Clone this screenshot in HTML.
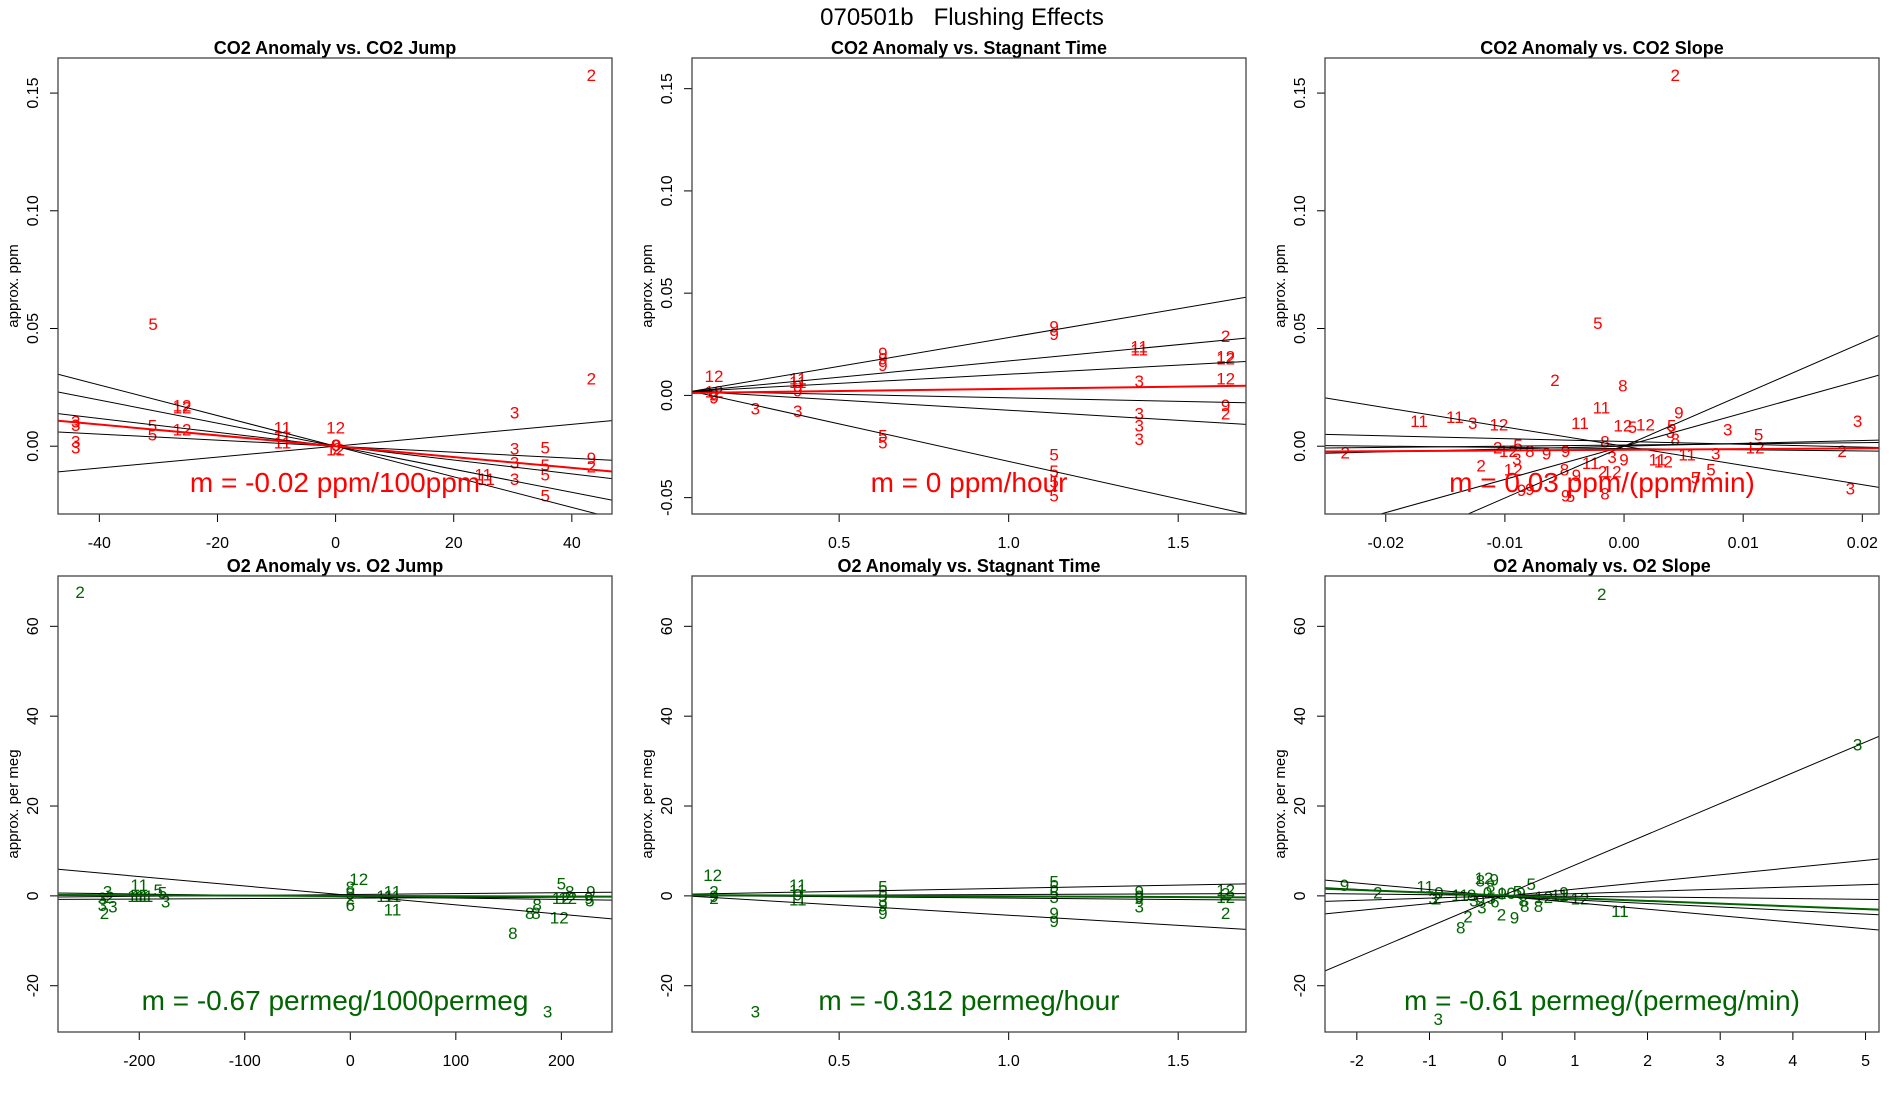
<!DOCTYPE html>
<html><head><meta charset="utf-8"><style>
html,body{margin:0;padding:0;background:#fff;}
svg{display:block;font-family:"Liberation Sans",sans-serif;}
</style></head><body>
<svg id="chart" width="1900" height="1100" viewBox="0 0 1900 1100" xmlns="http://www.w3.org/2000/svg">
<rect width="1900" height="1100" fill="#fff"/>
<text x="962" y="25" text-anchor="middle" font-size="24" fill="#000" style="white-space:pre" xml:space="preserve">070501b   Flushing Effects</text>
</svg>
<script>
// ---- Panel 1: CO2 Anomaly vs CO2 Jump ----
const p1Labels = ["2","5","2","12","12","3","3","3","5","5","12","11","11","11","12","3","3","0","2","12","9","3","5","3","9","2","5","5","11","11","3","5"];
const p1X = [43.3,-30.9,43.3,-26,-26,30.3,-44,-44,-31,-31,-26,-9,-9,-9,0,-44,-44,0,0.3,0,0.2,30.3,35.5,30.3,43.3,43.3,35.5,35.5,25,25.5,30.3,35.5];
const p1Y = [0.1577,0.0519,0.0288,0.0172,0.0165,0.0144,0.0105,0.009,0.0087,0.005,0.0072,0.008,0.0046,0.0015,0.008,0.002,-0.0005,0.0005,-0.001,-0.0015,0.0005,-0.001,-0.0005,-0.007,-0.005,-0.0087,-0.008,-0.012,-0.012,-0.014,-0.0139,-0.021];
const p1LineM = [-0.00065,-0.00049,-0.000294,-0.000128,0.000232];
const p1LineB = [0,0,0,0,0];
const p1Fit = [-0.00023,0];
const p1XTicks = [-40,-20,0,20,40];
const p1YTicks = [0,0.05,0.10,0.15];
const p1YTickLabels = ["0.00","0.05","0.10","0.15"];

// ---- Panel 2: CO2 Anomaly vs Stagnant Time ----
const p2Labels = ["12","2","9","12","3","11","11","9","9","3","9","9","9","5","5","9","9","11","11","3","3","3","3","5","5","5","5","2","12","12","12","9","2"];
const p2X = [0.131,0.131,0.131,0.131,0.253,0.378,0.378,0.378,0.378,0.378,0.629,0.629,0.629,0.629,0.629,1.134,1.134,1.385,1.385,1.385,1.385,1.385,1.385,1.134,1.134,1.134,1.134,1.64,1.64,1.64,1.64,1.64,1.64];
const p2Y = [0.0095,0.0005,-0.001,0.002,-0.0065,0.0083,0.0065,0.0047,0.0024,-0.0077,0.0207,0.018,0.0148,-0.0195,-0.023,0.0337,0.030,0.024,0.0225,0.007,-0.0089,-0.0148,-0.0213,-0.029,-0.037,-0.042,-0.049,0.029,0.019,0.018,0.0083,-0.0047,-0.0089];
const p2LineM = [0.02815,0.0159,0.00894,-0.00343,-0.00991,-0.0367];
const p2LineB = [0.00014,0.00095,0.0014,0.00223,0.00265,0.00442];
const p2Fit = [0.00215,0.00106];
const p2XTicks = [0.5,1.0,1.5];
const p2XTickLabels = ["0.5","1.0","1.5"];
const p2YTicks = [-0.05,0,0.05,0.10,0.15];
const p2YTickLabels = ["-0.05","0.00","0.05","0.10","0.15"];

// ---- Panel 3: CO2 Anomaly vs CO2 Slope ----
const p3Labels = ["2","5","2","8","11","9","11","11","3","12","11","12","5","12","3","5","8","3","5","3","8","2","2","12","5","8","9","9","3","9","11","12","11","3","12","2","2","12","3","5","5","11","2","12","9","8","9","9","9","5","8","3"];
const p3X = [0.0043,-0.0022,-0.0058,-0.0001,-0.0019,0.0046,-0.0172,-0.0142,-0.0127,-0.0105,-0.0037,-0.0001,0.0007,0.0018,0.0039,0.004,0.0043,0.0087,0.0113,0.0196,-0.0016,-0.0234,-0.0106,-0.0097,-0.0089,-0.0079,-0.0065,-0.0049,-0.001,0,0.0028,0.0033,0.0053,0.0077,0.011,0.0183,-0.012,-0.0093,-0.009,0.0073,0.006,-0.0028,-0.0018,-0.001,-0.004,-0.005,-0.0086,-0.0079,-0.0049,-0.0045,-0.0016,0.019];
const p3Y = [0.1577,0.0524,0.0282,0.0257,0.0164,0.0144,0.0108,0.0123,0.0098,0.0092,0.0098,0.0087,0.0082,0.0092,0.006,0.0087,0.003,0.0072,0.005,0.0108,0.002,-0.0026,-0.0005,-0.002,0.0005,-0.002,-0.003,-0.002,-0.0046,-0.0056,-0.0056,-0.0066,-0.0036,-0.003,-0.0005,-0.002,-0.0082,-0.0098,-0.0055,-0.0098,-0.0134,-0.0072,-0.0108,-0.0108,-0.0123,-0.0098,-0.0185,-0.0182,-0.021,-0.0212,-0.020,-0.018];
const p3LineM = [-0.817,2.20,1.41,-0.12,0.05,0.12,-0.05];
const p3LineB = [0,0,0,0.002,0.0005,0,-0.001];
const p3Fit = [0.03,-0.0015];
const p3XTicks = [-0.02,-0.01,0,0.01,0.02];
const p3XTickLabels = ["-0.02","-0.01","0.00","0.01","0.02"];
const p3YTicks = [0,0.05,0.10,0.15];
const p3YTickLabels = ["0.00","0.05","0.10","0.15"];

// ---- Panel 4: O2 Anomaly vs O2 Jump ----
const p4Labels = ["2","12","8","9","2","6","11","11","11","11","5","5","3","3","2","3","3","3","2","11","11","11","11","5","8","12","12","9","9","5","8","8","8","12","8","3"];
const p4X = [-256,8,0,0,0,0,-200,-203,-199,-195,-182,-178,-175,-230,-228,-235,-235,-225,-233,40,40,33,40,200,208,200,206,228,226,227,177,170,176,198,154,187];
const p4Y = [67.6,3.8,2,0.5,-0.5,-2,2.4,0,0,0,1.3,0.8,-1.3,1,-0.3,-0.5,-2,-2.4,-3.8,1,0,0,-3,2.7,1,-0.5,-0.5,1,-0.5,-1,-1.9,-3.8,-3.8,-4.8,-8.3,-25.7];
const p4LineM = [-0.021,0.002,-0.003,0.001];
const p4LineB = [0.1,0.3,-0.2,-0.5];
const p4Fit = [-0.00067,0];
const p4XTicks = [-200,-100,0,100,200];
const p4YTicks = [-20,0,20,40,60];

// ---- Panel 5: O2 Anomaly vs Stagnant Time ----
const p5Labels = ["12","2","9","2","11","11","9","11","5","5","5","3","9","9","5","5","5","3","9","9","9","9","9","3","12","2","12","2","3"];
const p5X = [0.127,0.131,0.131,0.131,0.378,0.378,0.378,0.378,0.629,0.629,0.629,0.629,0.629,0.629,1.134,1.134,1.134,1.134,1.134,1.134,1.385,1.385,1.385,1.385,1.64,1.64,1.64,1.64,0.253];
const p5Y = [4.6,1,0,-0.5,2.4,1.3,0.3,-0.8,2.1,1.1,0,-1,-2.1,-3.8,3.2,2.1,0.8,-0.3,-3.8,-5.6,1,0,-0.5,-2.4,1.3,0.5,-0.3,-3.8,-25.7];
const p5LineM = [1.4,-4.5,-0.6,0.3];
const p5LineB = [0.3,0.2,0.1,0];
const p5Fit = [-0.312,0.2];
const p5XTicks = [0.5,1.0,1.5];
const p5XTickLabels = ["0.5","1.0","1.5"];
const p5YTicks = [-20,0,20,40,60];

// ---- Panel 6: O2 Anomaly vs O2 Slope ----
const p6Labels = ["2","3","9","2","11","9","3","2","11","8","12","8","9","8","0","5","6","9","9","3","3","2","8","2","9","10","5","9","5","8","8","8","12","11","9","12","11","3"];
const p6X = [1.37,4.89,-2.17,-1.71,-1.06,-0.87,-0.95,-0.9,-0.58,-0.42,-0.25,-0.3,-0.11,-0.16,-0.2,-0.15,-0.1,0,-0.3,-0.39,-0.28,-0.01,-0.57,-0.47,0.17,0.06,0.21,0.26,0.4,0.31,0.5,0.29,0.57,0.79,0.85,1.07,1.62,-0.88];
const p6Y = [67.2,33.7,2.4,0.8,2.1,0.8,-0.6,-0.6,0.2,0.2,4,3.4,3.7,2.2,0.8,-0.5,-1.2,0.5,-1,-1,-2.6,-4.2,-7,-4.6,-4.8,0.6,1,0.6,2.6,-2.2,-2.2,-1,-0.2,0.2,0.8,-0.6,-3.4,-27.4];
const p6LineM = [6.85,1.6,0.5,-0.17,-1.456,-0.787];
const p6LineB = [0,-0.1,0,0.085,-0.05,-0.12];
const p6Fit = [-0.61,0.1];
const p6XTicks = [-2,-1,0,1,2,3,4,5];
const p6YTicks = [-20,0,20,40,60];

const NS = "http://www.w3.org/2000/svg";
const svg = document.getElementById("chart");
const RED = "#ff0000", GREEN = "#006400";
function mk(tag, attrs, parent){ const e=document.createElementNS(NS,tag); for(const k in attrs) e.setAttribute(k,attrs[k]); (parent||svg).appendChild(e); return e; }

function panel(cfg){
  const L=cfg.left, T=cfg.top, W=554, H=456;
  const sx = v => L + (v - cfg.xlim[0])/(cfg.xlim[1]-cfg.xlim[0])*W;
  const sy = v => T + H - (v - cfg.ylim[0])/(cfg.ylim[1]-cfg.ylim[0])*H;
  const g = mk("g",{});
  
  
  const clipId = "clip-"+cfg.name;
  const cp = mk("clipPath",{id:clipId},g);
  mk("rect",{x:L,y:T,width:W,height:H},cp);
  const t = mk("text",{x:L+W/2,y:T-4,"text-anchor":"middle","font-size":18,"font-weight":"bold",fill:"#000"},g);
  t.textContent = cfg.title;
  
  
  const yl = mk("text",{x:0,y:0,"text-anchor":"middle","font-size":15,fill:"#000",transform:`translate(${L-40},${T+H/2}) rotate(-90)`},g);
  yl.textContent = cfg.ylab;
  
  
  cfg.xticks.forEach((v,i)=>{
    const x=sx(v);
    const tk = mk("line",{x1:x,x2:x,y1:T+H,y2:T+H+8,stroke:"#000","stroke-width":1},g);
    
    
    const lb = mk("text",{x:x,y:T+H+34,"text-anchor":"middle","font-size":16,fill:"#000"},g);
    lb.textContent = cfg.xtickLabels ? cfg.xtickLabels[i] : String(v);
    
    
  });
  cfg.yticks.forEach((v,i)=>{
    const y=sy(v);
    const tk = mk("line",{x1:L-8,x2:L,y1:y,y2:y,stroke:"#000","stroke-width":1},g);
    
    
    const lb = mk("text",{x:0,y:0,"text-anchor":"middle","font-size":16,fill:"#000",transform:`translate(${L-20},${y}) rotate(-90)`},g);
    lb.textContent = cfg.ytickLabels ? cfg.ytickLabels[i] : String(v);
    
    
  });
  const inner = mk("g",{"clip-path":`url(#${clipId})`},g);
  cfg.labels.forEach((lab,i)=>{
    const p = mk("text",{x:sx(cfg.xs[i]),y:sy(cfg.ys[i])+6,"text-anchor":"middle","font-size":17,fill:cfg.color},inner);
    p.textContent = lab;
    
    
  });
  const x0=cfg.xlim[0], x1=cfg.xlim[1];
  cfg.lm.forEach((m,i)=>{
    const b=cfg.lb[i];
    const ln = mk("line",{x1:sx(x0),y1:sy(m*x0+b),x2:sx(x1),y2:sy(m*x1+b),stroke:"#000","stroke-width":1},inner);
    
    
  });
  const fm=cfg.fit[0], fb=cfg.fit[1];
  const fl = mk("line",{x1:sx(x0),y1:sy(fm*x0+fb),x2:sx(x1),y2:sy(fm*x1+fb),stroke:cfg.color,"stroke-width":2},inner);
  
  
  const st = mk("text",{x:L+W/2,y:T+H-22,"text-anchor":"middle","font-size":28,fill:cfg.color},g);
  st.textContent = cfg.mtext;
  
  
  const fr = mk("rect",{x:L,y:T,width:W,height:H,fill:"none",stroke:"#444","stroke-width":1.3},g);
  
  
}

const CO2Y=[-0.0288,0.1649], O2Y=[-30.3,71.2];
panel({name:"co2-vs-jump",left:58,top:58,xlim:[-47,46.8],ylim:CO2Y,title:"CO2 Anomaly vs. CO2 Jump",ylab:"approx. ppm",
  xticks:p1XTicks,yticks:p1YTicks,ytickLabels:p1YTickLabels,labels:p1Labels,xs:p1X,ys:p1Y,lm:p1LineM,lb:p1LineB,fit:p1Fit,color:RED,mtext:"m = -0.02 ppm/100ppm"});
panel({name:"co2-vs-stagnant",left:692,top:58,xlim:[0.066,1.70],ylim:[-0.058,0.165],title:"CO2 Anomaly vs. Stagnant Time",ylab:"approx. ppm",
  xticks:p2XTicks,xtickLabels:p2XTickLabels,yticks:p2YTicks,ytickLabels:p2YTickLabels,labels:p2Labels,xs:p2X,ys:p2Y,lm:p2LineM,lb:p2LineB,fit:p2Fit,color:RED,mtext:"m = 0 ppm/hour"});
panel({name:"co2-vs-slope",left:1325,top:58,xlim:[-0.0251,0.0214],ylim:CO2Y,title:"CO2 Anomaly vs. CO2 Slope",ylab:"approx. ppm",
  xticks:p3XTicks,xtickLabels:p3XTickLabels,yticks:p3YTicks,ytickLabels:p3YTickLabels,labels:p3Labels,xs:p3X,ys:p3Y,lm:p3LineM,lb:p3LineB,fit:p3Fit,color:RED,mtext:"m = 0.03 ppm/(ppm/min)"});
panel({name:"o2-vs-jump",left:58,top:576,xlim:[-277,248],ylim:O2Y,title:"O2 Anomaly vs. O2 Jump",ylab:"approx. per meg",
  xticks:p4XTicks,yticks:p4YTicks,labels:p4Labels,xs:p4X,ys:p4Y,lm:p4LineM,lb:p4LineB,fit:p4Fit,color:GREEN,mtext:"m = -0.67 permeg/1000permeg"});
panel({name:"o2-vs-stagnant",left:692,top:576,xlim:[0.066,1.70],ylim:O2Y,title:"O2 Anomaly vs. Stagnant Time",ylab:"approx. per meg",
  xticks:p5XTicks,xtickLabels:p5XTickLabels,yticks:p5YTicks,labels:p5Labels,xs:p5X,ys:p5Y,lm:p5LineM,lb:p5LineB,fit:p5Fit,color:GREEN,mtext:"m = -0.312 permeg/hour"});
panel({name:"o2-vs-slope",left:1325,top:576,xlim:[-2.438,5.185],ylim:O2Y,title:"O2 Anomaly vs. O2 Slope",ylab:"approx. per meg",
  xticks:p6XTicks,yticks:p6YTicks,labels:p6Labels,xs:p6X,ys:p6Y,lm:p6LineM,lb:p6LineB,fit:p6Fit,color:GREEN,mtext:"m = -0.61 permeg/(permeg/min)"});
</script>
</body></html>
